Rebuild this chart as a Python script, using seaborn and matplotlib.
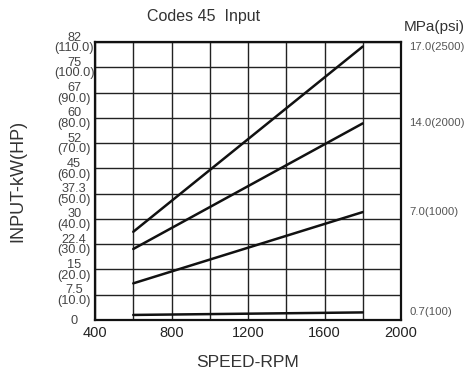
import pandas as pd
import matplotlib
matplotlib.use('Agg')
import matplotlib.pyplot as plt
import seaborn as sns

sns.set_style('white')
plt.rcParams['font.family'] = ['Liberation Sans', 'DejaVu Sans']

# ── data ──────────────────────────────────────────────────────────────
speed_rpm = [600, 1800]
pressure = ['17.0(2500)', '14.0(2000)', '7.0(1000)', '0.7(100)']
hp_start = [34.9, 28.1, 14.5, 2.0]
hp_end = [108.2, 77.8, 42.7, 3.0]

kw_ticks = ['0', '7.5', '15', '22.4', '30', '37.3', '45', '52', '60', '67', '75', '82']
hp_ticks = [0, 10, 20, 30, 40, 50, 60, 70, 80, 90, 100, 110]
x_major = [400, 800, 1200, 1600, 2000]
x_minor = [600, 1000, 1400, 1800]

rows = []
for p, a, b in zip(pressure, hp_start, hp_end):
    rows.append({'rpm': speed_rpm[0], 'hp': a, 'p': p})
    rows.append({'rpm': speed_rpm[1], 'hp': b, 'p': p})
df = pd.DataFrame(rows)

# ── plot ──────────────────────────────────────────────────────────────
fig = plt.figure(figsize=(4.69, 3.74), dpi=100)
ax = fig.add_axes([0.2026, 0.1444, 0.6524, 0.7433])

sns.lineplot(data=df, x='rpm', y='hp', hue='p', palette=['#111111'] * 4,
             lw=1.8, legend=False, ax=ax)

ax.set_xlim(400, 2000)
ax.set_ylim(0, 110)
ax.set_xticks(x_major)
ax.set_xticks(x_minor, minor=True)
ax.set_xticklabels([str(v) for v in x_major], fontsize=10.5, color='#222222')
ax.set_yticks(hp_ticks)
ax.set_yticklabels([k if h == 0 else f'{k}\n({h:.1f})' for k, h in zip(kw_ticks, hp_ticks)],
                   fontsize=9.2, color='#444444', linespacing=0.85, ha='center')
ax.tick_params(axis='y', length=0, pad=15)
ax.tick_params(axis='x', length=0, pad=4)
ax.tick_params(which='minor', length=0)
ax.grid(True, which='both', color='#222222', lw=1.0)
for s in ax.spines.values():
    s.set_color('#111111')
    s.set_linewidth(1.6)

for p, y in zip(pressure, hp_end):
    ax.text(2042, y, p, fontsize=8.2, color='#555555', va='center', ha='left', clip_on=False)
ax.text(2016, 116, 'MPa(psi)', fontsize=11, color='#333333', va='center', ha='left')

ax.set_xlabel('SPEED-RPM', fontsize=12.5, color='#333333', labelpad=11)
ax.set_ylabel('INPUT-kW(HP)', fontsize=13, color='#333333')
ax.yaxis.set_label_coords(-0.225, 0.5)
fig.text(0.435, 0.955, 'Codes 45  Input', fontsize=11.5, color='#333333', ha='center', va='center')

plt.savefig('out.png', dpi=100)
plt.close()
